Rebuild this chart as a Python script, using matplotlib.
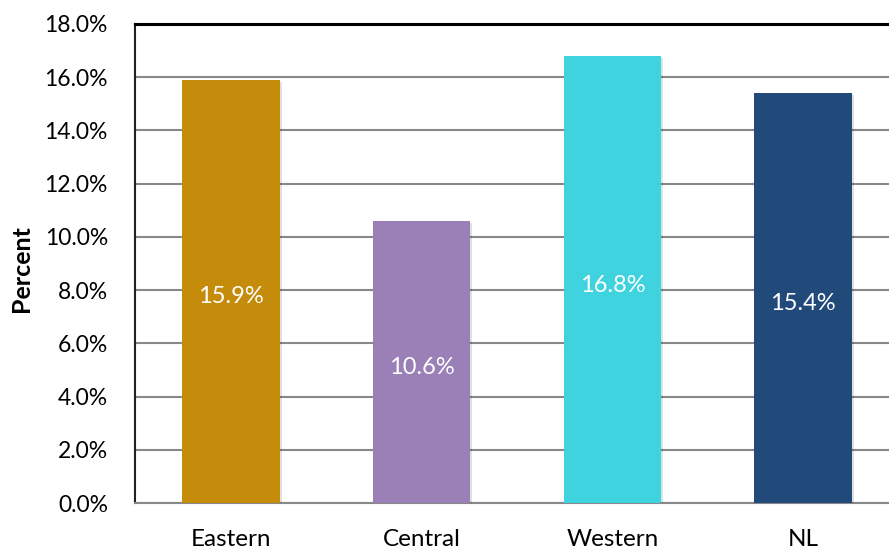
import matplotlib.pyplot as plt
import matplotlib.patheffects as pe
from matplotlib.ticker import FuncFormatter

regions = ['Eastern', 'Central', 'Western', 'NL']
percent = [15.9, 10.6, 16.8, 15.4]
colors = ['#C48C0A', '#9A80B6', '#3ED3DF', '#21497A']
y_ticks = [0, 2, 4, 6, 8, 10, 12, 14, 16, 18]

plt.rcParams['font.family'] = ['Lato', 'DejaVu Sans']

fig = plt.figure(figsize=(8.89, 5.5), dpi=100)
# axes run past the right edge so the frame is cut off there
ax = fig.add_axes([135 / 889, 1 - 503 / 550, (899 - 135) / 889, (503 - 24) / 550])

x = range(len(regions))
bars = ax.bar(x, percent, width=0.51, color=colors, zorder=3)
for b in bars:
    b.set_path_effects([pe.SimplePatchShadow(offset=(1.5, -1.5), shadow_rgbFace='#000000', alpha=0.12), pe.Normal()])

# value labels sit a little below the bar's midpoint
for xi, v in zip(x, percent):
    ax.annotate(f'{v:.1f}%', (xi, v / 2), xytext=(0, -4), textcoords='offset points',
                ha='center', va='center', color='white', fontsize=17, zorder=4)

ax.set_xlim(-0.503, 3.503)
ax.set_ylim(0, 18)
ax.set_yticks(y_ticks)
ax.yaxis.set_major_formatter(FuncFormatter(lambda v, p: f'{v:.1f}%'))
ax.set_xticks(list(x))
ax.set_xticklabels(regions)
ax.tick_params(axis='both', length=0, colors='black')
ax.tick_params(axis='y', pad=19.5, labelsize=16.5)
ax.tick_params(axis='x', pad=19, labelsize=17.5)

ax.grid(axis='y', color='#888888', linewidth=1.5, zorder=0)
ax.spines['top'].set_linewidth(2.2)
ax.spines['top'].set_color('black')
ax.spines['left'].set_linewidth(1.5)
ax.spines['left'].set_color('#222222')
ax.spines['bottom'].set_color('#888888')
ax.spines['bottom'].set_linewidth(1.5)
ax.spines['right'].set_visible(False)

ax.set_ylabel('Percent', fontsize=18, fontweight='bold')
ax.yaxis.set_label_coords(-0.1335, 0.49)

fig.savefig('out.png', dpi=100)
